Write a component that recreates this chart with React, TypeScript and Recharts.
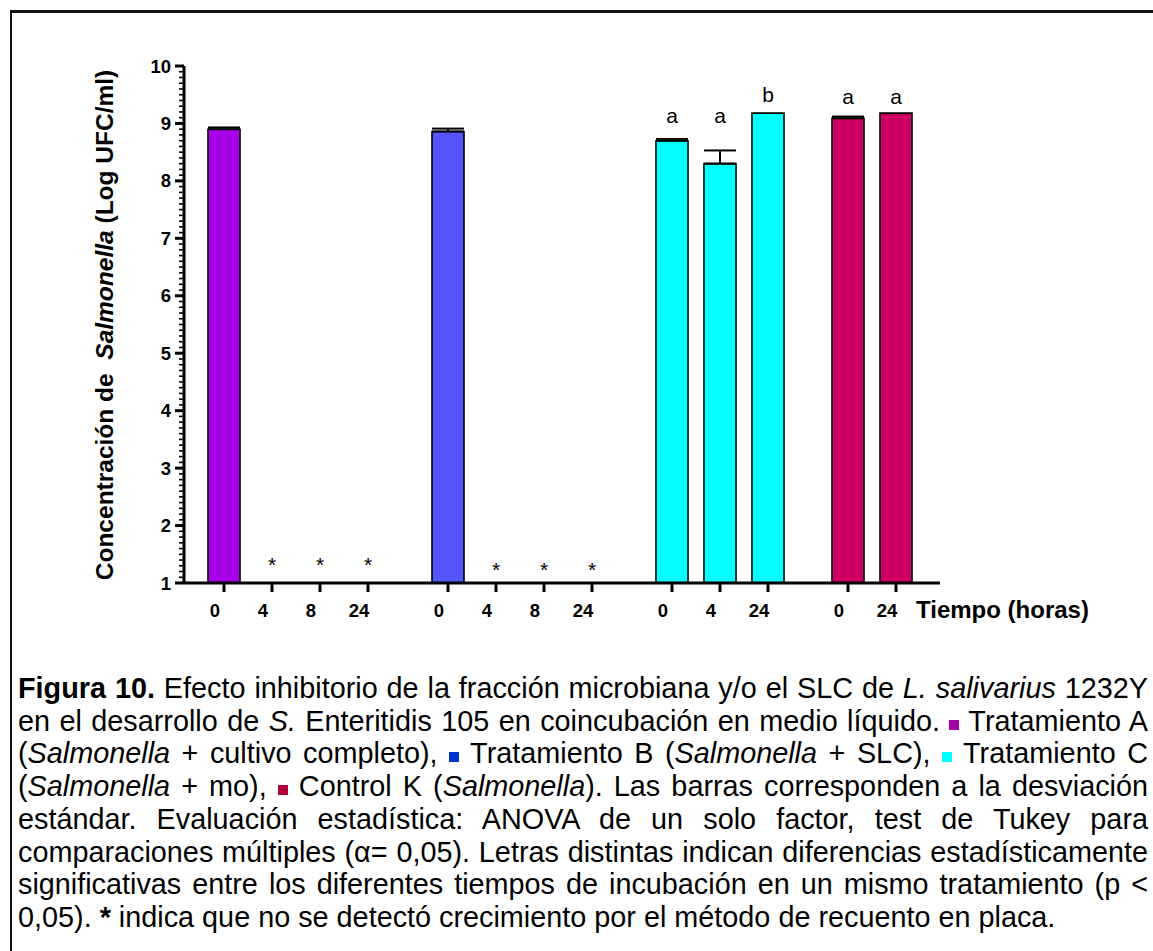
import React from "react";
import { ComposedChart, Bar, XAxis, YAxis, ErrorBar, Scatter, Cell } from "recharts";

// one entry per treatment group
const groups = ["A", "B", "C", "K"];
const groupColors = ["#A600E6", "#5555FF", "#00FFFF", "#CC0062"];
const groupHours = [
  ["0", "4", "8", "24"],
  ["0", "4", "8", "24"],
  ["0", "4", "24"],
  ["0", "24"],
];
// Log UFC/ml, null = no growth detected
const groupMeans = [
  [8.9, null, null, null],
  [8.86, null, null, null],
  [8.7, 8.3, 9.18],
  [9.09, 9.18],
];
const groupSd = [
  [0.03, null, null, null],
  [0.05, null, null, null],
  [0.03, 0.23, null],
  [0.03, null],
];
const groupMarks = [
  ["", "*", "*", "*"],
  ["", "*", "*", "*"],
  ["a", "a", "b"],
  ["a", "a"],
];
// baseline height of the marks, in axis units
const markLevels = [
  [null, 1.2, 1.2, 1.2],
  [null, 1.11, 1.11, 1.11],
  [9.0, 9.0, 9.37],
  [9.33, 9.33],
];
const yMajorTicks = [1, 2, 3, 4, 5, 6, 7, 8, 9, 10];

const FONT = "'Liberation Sans', Arial, Helvetica, sans-serif";
const BAR_STEP = 3;
const GROUP_GAP = 5;

type Row = {
  pos: number;
  hour: string;
  mean: number | null;
  err: number[] | null;
  mark: string;
  markAt: number | null;
  color: string;
};

const rows: Row[] = [];
let slot = 0;
groups.forEach((_g, gi) => {
  groupHours[gi].forEach((h, i) => {
    if (i > 0) slot += BAR_STEP;
    const sd = groupSd[gi][i];
    rows.push({
      pos: slot,
      hour: h,
      mean: groupMeans[gi][i],
      err: sd == null ? null : [0, sd],
      mark: groupMarks[gi][i],
      markAt: markLevels[gi][i],
      color: groupColors[gi],
    });
  });
  slot += GROUP_GAP;
});
const markRows = rows.filter((r) => r.mark);

const yTicks: number[] = [];
for (let i = 0; i <= 90; i++) yTicks.push(Math.round((1 + i / 10) * 10) / 10);

function YTick(props: any) {
  const { x, y, payload } = props;
  const v = payload.value;
  const major = yMajorTicks.includes(v);
  return (
    <g>
      <line x1={x} x2={x - (major ? 9 : 5)} y1={y} y2={y} stroke="#000" strokeWidth={major ? 3 : 1.6} />
      {major && (
        <text x={x - 13} y={y + 6.5} textAnchor="end" fontFamily={FONT} fontWeight="bold" fontSize={18.5} fill="#000">
          {v}
        </text>
      )}
    </g>
  );
}

function XTick(props: any) {
  const { x, y, payload } = props;
  const row = rows.find((r) => r.pos === payload.value);
  return (
    <text x={x - 9} y={y + 24.5} textAnchor="middle" fontFamily={FONT} fontWeight="bold" fontSize={18.5} fill="#000">
      {row ? row.hour : ""}
    </text>
  );
}

function MarkShape(props: any) {
  const { cx, cy, payload } = props;
  if (!payload || !payload.mark) return <g />;
  return (
    <text x={cx} y={cy} textAnchor="middle" fontFamily={FONT} fontSize={21} fill="#000">
      {payload.mark}
    </text>
  );
}

const Square = ({ color }: { color: string }) => (
  <span style={{ display: "inline-block", width: 10, height: 10, background: color, verticalAlign: "1px" }} />
);

const lineStyle: React.CSSProperties = { textAlign: "justify", textAlignLast: "justify", whiteSpace: "nowrap" };

export default function App() {
  return (
    <div style={{ position: "relative", width: 1153, height: 951, overflow: "hidden", background: "#fff" }}>
      <style>{"body{margin:0;overflow:hidden}"}</style>
      <div
        style={{
          position: "absolute",
          left: 9.5,
          top: 10,
          width: 1300,
          height: 1100,
          borderTop: "3px solid #111",
          borderLeft: "2.5px solid #111",
        }}
      />
      <div style={{ position: "absolute", left: 0, top: 0 }}>
        <ComposedChart width={1153} height={643} data={rows} margin={{ top: 66, right: 213, bottom: 0, left: 0 }}>
          <XAxis
            dataKey="pos"
            type="number"
            domain={[-2.5, 44.75]}
            allowDataOverflow
            ticks={rows.map((r) => r.pos)}
            interval={0}
            height={60}
            tick={<XTick />}
            tickSize={9}
            tickMargin={0}
            axisLine={{ stroke: "#000", strokeWidth: 3 }}
            tickLine={{ stroke: "#000", strokeWidth: 3 }}
          />
          <YAxis
            type="number"
            domain={[1, 10]}
            allowDataOverflow
            ticks={yTicks}
            interval={0}
            width={184}
            tick={<YTick />}
            tickSize={0}
            tickMargin={0}
            tickLine={false}
            axisLine={{ stroke: "#000", strokeWidth: 3 }}
          />
          <Bar dataKey="mean" barSize={32} stroke="#000" strokeWidth={1.6} isAnimationActive={false}>
            {rows.map((r, i) => (
              <Cell key={`cell-${i}`} fill={r.color} />
            ))}
            <ErrorBar dataKey="err" width={16} stroke="#000" strokeWidth={2} direction="y" />
          </Bar>
          <Scatter data={markRows} dataKey="markAt" shape={<MarkShape />} isAnimationActive={false} />
        </ComposedChart>
      </div>
      <svg width={1153} height={643} style={{ position: "absolute", left: 0, top: 0, pointerEvents: "none" }}>
        <text
          transform="translate(113,325) rotate(-90)"
          textAnchor="middle"
          fontFamily={FONT}
          fontWeight="bold"
          fontSize={24.5}
          fill="#000"
          style={{ whiteSpace: "pre" }}
        >
          Concentración de{"  "}
          <tspan fontStyle="italic">Salmonella</tspan> (Log UFC/ml)
        </text>
        <text x={916} y={618} fontFamily={FONT} fontWeight="bold" fontSize={24} fill="#000">
          Tiempo (horas)
        </text>
      </svg>
      <div
        style={{
          position: "absolute",
          left: 18,
          top: 672,
          width: 1130,
          fontFamily: FONT,
          fontSize: 28.8,
          lineHeight: "32.7px",
          color: "#000",
        }}
      >
        <div style={lineStyle}>
          <b>Figura 10.</b> Efecto inhibitorio de la fracción microbiana y/o el SLC de <i>L. salivarius</i> 1232Y
        </div>
        <div style={lineStyle}>
          en el desarrollo de <i>S.</i> Enteritidis 105 en coincubación en medio líquido. <Square color="#A000A8" />{" "}
          Tratamiento A
        </div>
        <div style={lineStyle}>
          (<i>Salmonella</i> + cultivo completo), <Square color="#0033CC" /> Tratamiento B (<i>Salmonella</i> + SLC),{" "}
          <Square color="#00FFFF" /> Tratamiento C
        </div>
        <div style={lineStyle}>
          (<i>Salmonella</i> + mo), <Square color="#B0003C" /> Control K (<i>Salmonella</i>). Las barras corresponden a la
          desviación
        </div>
        <div style={lineStyle}>
          estándar. Evaluación estadística: ANOVA de un solo factor, test de Tukey para
        </div>
        <div style={lineStyle}>
          comparaciones múltiples (α= 0,05). Letras distintas indican diferencias estadísticamente
        </div>
        <div style={lineStyle}>
          significativas entre los diferentes tiempos de incubación en un mismo tratamiento (p &lt;
        </div>
        <div style={{ textAlign: "left", whiteSpace: "nowrap" }}>
          0,05). <b>*</b> indica que no se detectó crecimiento por el método de recuento en placa.
        </div>
      </div>
    </div>
  );
}
